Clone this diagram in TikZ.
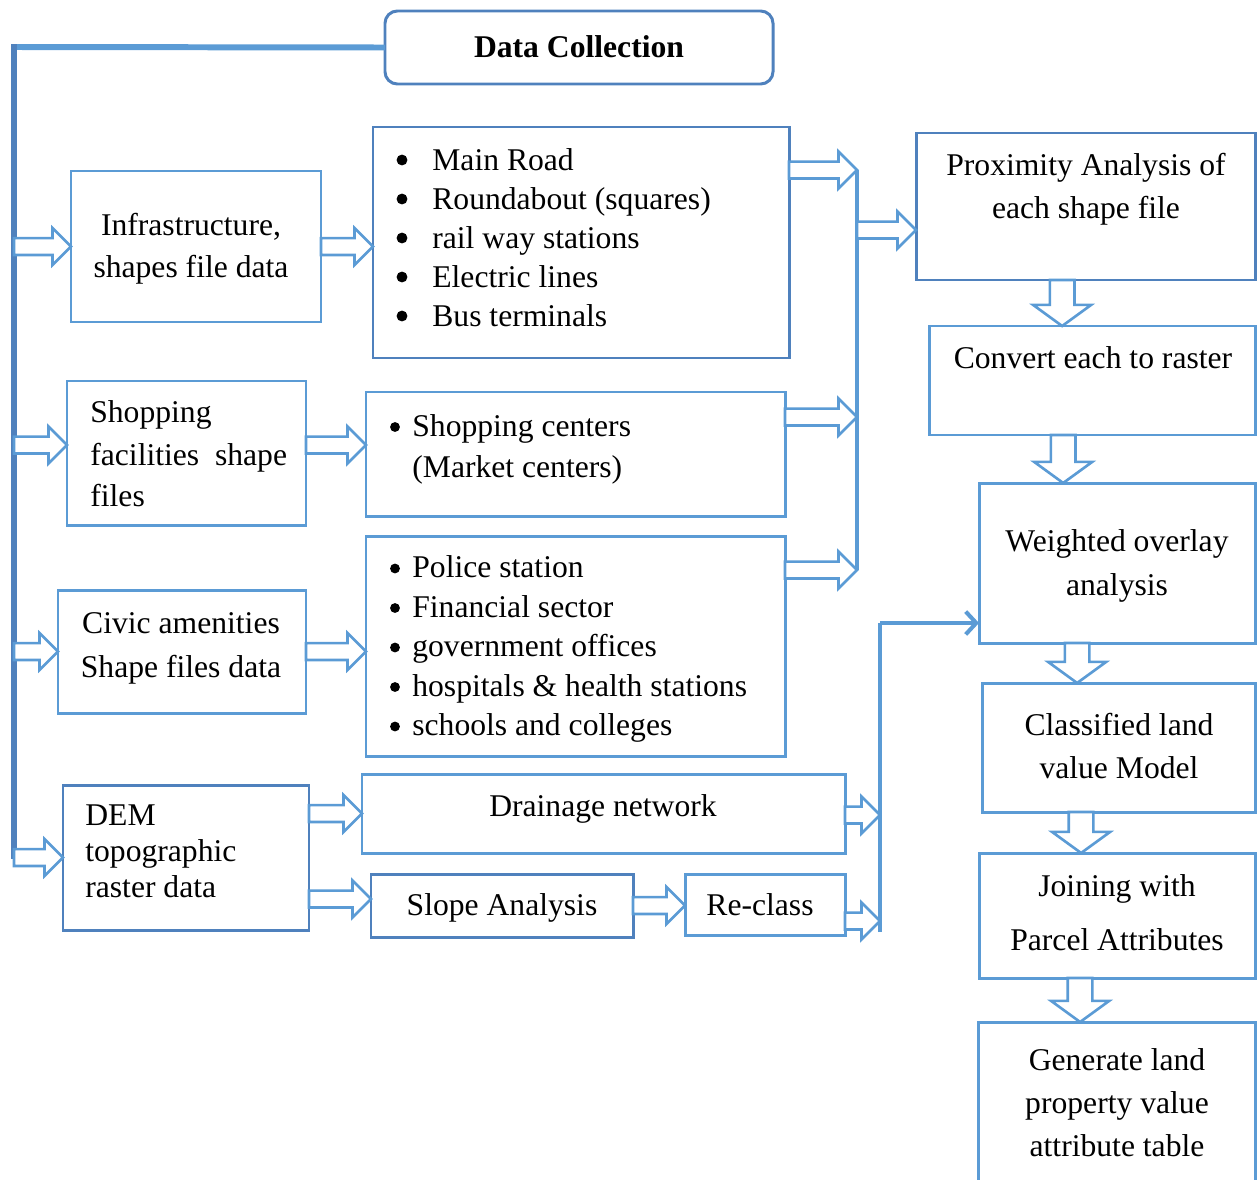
\documentclass[tikz,border=0pt]{standalone}
\usepackage{fontspec}
\setmainfont{Liberation Serif}
\usetikzlibrary{fit,calc,arrows.meta}
\definecolor{dblue}{RGB}{79,129,189}
\definecolor{lblue}{RGB}{91,155,213}
\tikzset{
  box/.style={draw=lblue, line width=1.7pt, inner sep=0pt, outer sep=0pt},
  dbox/.style={box, draw=dblue},
  txt/.style={inner sep=0pt, font=\fontsize{18}{22}\selectfont, anchor=base},
  ltxt/.style={txt, anchor=base west},
  bul/.style={circle, fill=black, inner sep=0pt, minimum size=6.2pt},
  sbul/.style={bul, minimum size=5.6pt},
  blk/.style={draw=lblue, line width=1.5pt, fill=white, line join=miter},
  trunkline/.style={draw=dblue, line width=3.4pt},
  feed/.style={draw=lblue, line width=2.3pt},
}
\newcommand{\rarrow}[2]{\draw[blk] let \p1=(#1), \p2=(#2) in
  (\x1,\y1+4.8pt) -- (\x2-10.5pt,\y1+4.8pt) -- (\x2-10.5pt,\y1+10.5pt) -- (\x2,\y1)
  -- (\x2-10.5pt,\y1-10.5pt) -- (\x2-10.5pt,\y1-4.8pt) -- (\x1,\y1-4.8pt) -- cycle;}
\newcommand{\darrow}[2]{\draw[blk] let \p1=(#1), \p2=(#2) in
  (\x1-7pt,\y1) -- (\x1-7pt,\y2+12pt) -- (\x1-16.5pt,\y2+12pt) -- (\x1,\y2)
  -- (\x1+16.5pt,\y2+12pt) -- (\x1+7pt,\y2+12pt) -- (\x1+7pt,\y1) -- cycle;}
\begin{document}
\begin{tikzpicture}[x=0.02cm,y=-0.02cm]
\useasboundingbox (0,0) rectangle (1258,1180);

% ---------- boxes
\node[dbox, rounded corners=7pt, fit={(385,11)(773,84)}] (dc) {};
\node[box, fit={(71,171)(321,322)}] (infra) {};
\node[dbox, fit={(373,127)(789,358)}] (list1) {};
\node[dbox, fit={(916,133)(1255,280)}] (prox) {};
\node[box, fit={(929,326)(1255,435)}] (conv) {};
\node[box, fit={(979,483)(1255,643)}] (weight) {};
\node[box, fit={(982,683)(1255,812)}] (class) {};
\node[box, fit={(979,853)(1255,978)}] (join) {};
\node[inner sep=0pt, outer sep=0pt, fit={(978,1022)(1255,1180)}] (gen) {};
\draw[box] (gen.south west) -- (gen.north west) -- (gen.north east) -- (gen.south east);
\node[box, fit={(67,381)(306,525)}] (shop) {};
\node[box, fit={(366,392)(785,516)}] (shoplist) {};
\node[box, fit={(58,590)(306,713)}] (civic) {};
\node[box, fit={(366,536)(785,756)}] (civlist) {};
\node[dbox, fit={(63,785)(309,930)}] (dem) {};
\node[box, fit={(362,774)(845,853)}] (drain) {};
\node[dbox, fit={(371,874)(633,937)}] (slope) {};
\node[box, fit={(685,874)(845,935)}] (reclass) {};

% ---------- texts
\node[txt, font=\fontsize{18}{22}\selectfont\bfseries] (dct) at (579,57) {Data Collection};
\node[txt] (infra1) at (191,235) {Infrastructure,};
\node[txt] (infra2) at (191,277) {shapes file data};
\foreach \t [count=\i] in {Main Road, Roundabout (squares), rail way stations, Electric lines, Bus terminals}{
  \node[bul] (b1\i) at (402,{121+39*\i}) {};
  \node[ltxt] (l1\i) at (432,{131+39*\i}) {\t};
}
\node[ltxt] (shop1) at (90,422) {Shopping};
\node[ltxt] (shop2) at (90,465) {facilities\ \ shape};
\node[ltxt] (shop3) at (90,506) {files};
\node[sbul] (b21) at (395,427) {};
\node[ltxt] (l21) at (412,436) {Shopping centers};
\node[ltxt] (l22) at (412,477) {(Market centers)};
\node[txt] (civ1) at (181,633) {Civic amenities};
\node[txt] (civ2) at (181,677) {Shape files data};
\foreach \t [count=\i] in {Police station, Financial sector, government offices, hospitals \& health stations, schools and colleges}{
  \node[sbul] (b3\i) at (395,{529+39.5*\i}) {};
  \node[ltxt] (l3\i) at (412,{538+39.5*\i}) {\t};
}
\node[ltxt] (dem1) at (85,825) {DEM};
\node[ltxt] (dem2) at (85,861) {topographic};
\node[ltxt] (dem3) at (85,897) {raster data};
\node[txt] (draint) at (603,816) {Drainage network};
\node[txt] (slopet) at (502,915) {Slope Analysis};
\node[txt] (reclasst) at (760,915) {Re-class};
\node[txt] (prox1) at (1086,175) {Proximity Analysis of};
\node[txt] (prox2) at (1086,218) {each shape file};
\node[txt] (convt) at (1093,368) {Convert each to raster};
\node[txt] (w1) at (1117,551) {Weighted overlay};
\node[txt] (w2) at (1117,595) {analysis};
\node[txt] (cl1) at (1119,735) {Classified land};
\node[txt] (cl2) at (1119,778) {value Model};
\node[txt] (j1) at (1117,896) {Joining with};
\node[txt] (j2) at (1117,950) {Parcel Attributes};
\node[txt] (g1) at (1117,1070) {Generate land};
\node[txt] (g2) at (1117,1113) {property value};
\node[txt] (g3) at (1117,1156) {attribute table};

% ---------- helper coordinates
\coordinate (ttop) at (14,47);
\coordinate (tbot) at (14,856);
\coordinate (ctop) at (857,170);
\coordinate (cin) at (857,230);
\coordinate (c2) at (857,417);
\coordinate (c3) at (857,570);
\coordinate (rtop) at (880,623);
\coordinate (r1) at (880,815);
\coordinate (r2) at (880,921);
\coordinate (rbot) at (880,932);
\coordinate (shopin) at ([yshift=4.5pt]shop.west);
\coordinate (slopein) at (slope.west |- 0,899);

% ---------- lines
\draw[trunkline, draw=lblue] (dc.west) -- (ttop);
\draw[trunkline, line cap=rect] (ttop) -- (tbot);
\draw[feed] (ctop) -- (c3);
\draw[feed] (rbot) -- (rtop);
\draw[feed, -{Straight Barb[length=6pt,width=13pt]}] (rtop) -- (weight.west |- rtop);

% ---------- block arrows
\rarrow{ttop |- infra.west}{infra.west}
\rarrow{ttop |- shopin}{shop.west}
\rarrow{ttop |- civic.west}{civic.west}
\rarrow{ttop |- dem.west}{dem.west}
\rarrow{infra.east}{list1.west}
\rarrow{shop.east |- shopin}{shoplist.west}
\rarrow{civic.east}{civlist.west}
\rarrow{dem.east |- drain.west}{drain.west}
\rarrow{dem.east |- slopein}{slope.west}
\rarrow{slope.east}{reclass.west}
\rarrow{list1.east |- ctop}{ctop}
\rarrow{shoplist.east |- c2}{c2}
\rarrow{civlist.east |- c3}{c3}
\rarrow{cin}{prox.west}
\rarrow{drain.east |- r1}{r1}
\rarrow{reclass.east |- r2}{r2}
\darrow{[xshift=-13.3pt]prox.south}{conv.north}
\darrow{[xshift=-16.4pt]conv.south}{weight.north}
\darrow{[xshift=-22.7pt]weight.south}{class.north}
\darrow{[xshift=-21.3pt]class.south}{join.north}
\darrow{[xshift=-21pt]join.south}{gen.north}
\end{tikzpicture}
\end{document}
